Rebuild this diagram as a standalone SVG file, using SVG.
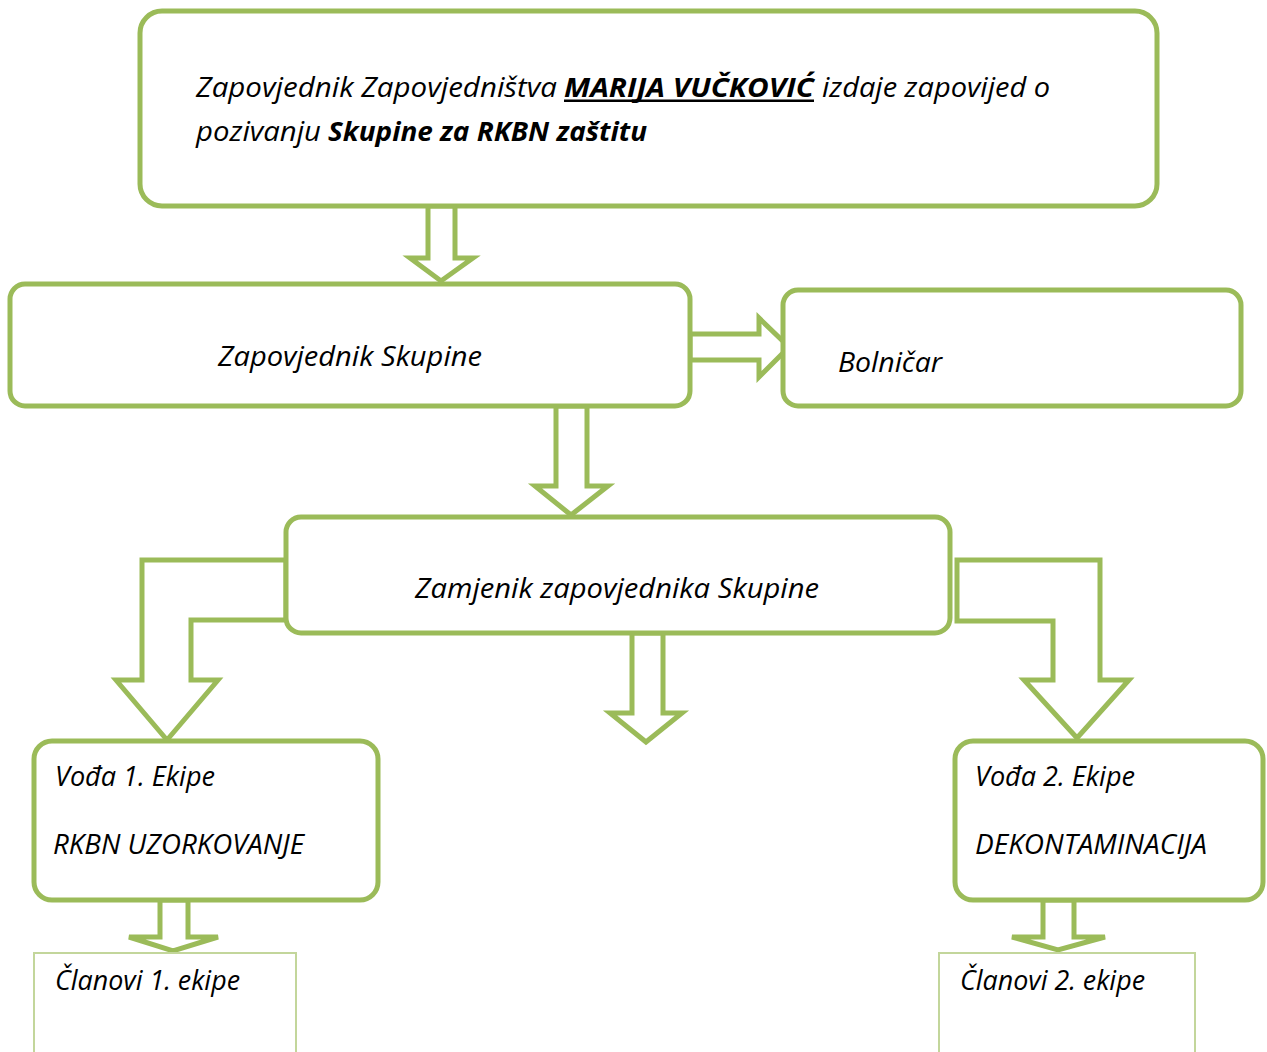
<svg xmlns="http://www.w3.org/2000/svg" width="1267" height="1052" viewBox="0 0 1267 1052">
<style>
.box{fill:#fff;stroke:#9BBB59;stroke-width:5}
.thin{fill:#fff;stroke:#C3D69B;stroke-width:2}
.arr{fill:#fff;stroke:#9BBB59;stroke-width:5;stroke-linejoin:miter}
text{font-family:"Open Sans","Liberation Sans",sans-serif;font-style:italic;font-size:27.5px;fill:#000}
.b{font-weight:bold}
</style>
<rect width="1267" height="1052" fill="#fff"/>
<g id="connectors">
<polygon class="arr" points="428,206 428,258 410,258 441,281 473,258 455,258 455,206"/>
<polygon class="arr" points="690,334 759,334 759,318 789,347 759,377 759,360 690,360"/>
<polygon class="arr" points="556,406 556,486 535,486 571,515 608,486 587,486 587,406"/>
<polygon class="arr" points="286,560 142,560 142,680 116,680 167,740 218,680 191,680 191,620 286,620"/>
<polygon class="arr" points="632,633 632,713 610,713 646,742 682,713 663,713 663,633"/>
<polygon class="arr" points="957,560 1100,560 1100,680 1129,680 1077,738 1024,680 1053,680 1053,621 957,621"/>
<polygon class="arr" points="160,900 160,937 129,937 173,951 218,937 188,937 188,900"/>
<polygon class="arr" points="1043,900 1043,937 1012,937 1058,950 1105,937 1074,937 1074,900"/>
</g>
<g id="n-top">
<rect class="box" x="140" y="11" width="1017" height="195" rx="22"/>
<text x="196" y="97"><tspan textLength="361" lengthAdjust="spacingAndGlyphs">Zapovjednik Zapovjedništva</tspan><tspan class="b" x="564" textLength="250" lengthAdjust="spacingAndGlyphs">MARIJA VUČKOVIĆ</tspan><tspan x="822" textLength="228" lengthAdjust="spacingAndGlyphs">izdaje zapovijed o</tspan></text>
<rect x="564" y="99.5" width="250" height="2.5" fill="#000"/>
<text x="196" y="141"><tspan textLength="125" lengthAdjust="spacingAndGlyphs">pozivanju</tspan><tspan class="b" x="328" textLength="319" lengthAdjust="spacingAndGlyphs">Skupine za RKBN zaštitu</tspan></text>
</g>
<g id="n-zapovjednik">
<rect class="box" x="10" y="284" width="680" height="122" rx="15"/>
<text x="218" y="366" textLength="264" lengthAdjust="spacingAndGlyphs">Zapovjednik Skupine</text>
</g>
<g id="n-bolnicar">
<rect class="box" x="783" y="290" width="458" height="116" rx="15"/>
<text x="838" y="372" textLength="104" lengthAdjust="spacingAndGlyphs">Bolničar</text>
</g>
<g id="n-zamjenik">
<rect class="box" x="286" y="517" width="664" height="116" rx="15"/>
<text x="415" y="598" textLength="404" lengthAdjust="spacingAndGlyphs">Zamjenik zapovjednika Skupine</text>
</g>
<g id="n-voda1">
<rect class="box" x="34" y="741" width="344" height="159" rx="18"/>
<text x="55" y="786" textLength="160" lengthAdjust="spacingAndGlyphs">Vođa 1. Ekipe</text>
<text x="53" y="854" textLength="251" lengthAdjust="spacingAndGlyphs">RKBN UZORKOVANJE</text>
</g>
<g id="n-voda2">
<rect class="box" x="955" y="741" width="308" height="159" rx="18"/>
<text x="975" y="786" textLength="160" lengthAdjust="spacingAndGlyphs">Vođa 2. Ekipe</text>
<text x="975" y="854" textLength="232" lengthAdjust="spacingAndGlyphs">DEKONTAMINACIJA</text>
</g>
<g id="n-clanovi1">
<rect class="thin" x="34" y="953" width="262" height="110"/>
<text x="55" y="990" textLength="185" lengthAdjust="spacingAndGlyphs">Članovi 1. ekipe</text>
</g>
<g id="n-clanovi2">
<rect class="thin" x="939" y="953" width="256" height="110"/>
<text x="960" y="990" textLength="185" lengthAdjust="spacingAndGlyphs">Članovi 2. ekipe</text>
</g>
</svg>
